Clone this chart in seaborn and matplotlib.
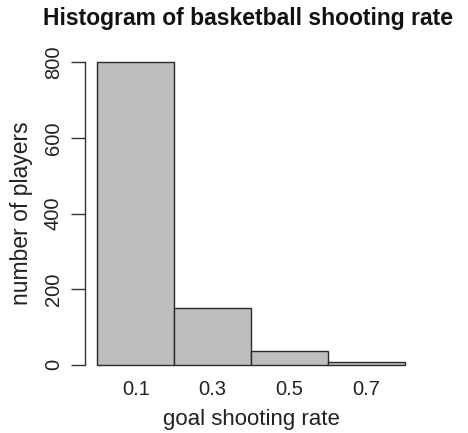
import matplotlib
matplotlib.use("Agg")
import matplotlib.pyplot as plt
import seaborn as sns
import numpy as np

# Data
bin_edges = [0.0, 0.2, 0.4, 0.6, 0.8]
bin_centers = [0.1, 0.3, 0.5, 0.7]
counts = [800, 150, 37, 8]
x_tick_labels = ["0.1", "0.3", "0.5", "0.7"]
y_ticks = [0, 200, 400, 600, 800]

sns.set_style("white")
plt.rcParams['font.family'] = ['Liberation Sans', 'DejaVu Sans']

W, H = 468, 433
fig = plt.figure(figsize=(W / 100, H / 100), dpi=100)
ax = fig.add_axes([85 / W, (H - 377) / H, (417 - 85) / W, (377 - 50) / H])

sns.histplot(x=bin_centers, weights=counts, bins=bin_edges, ax=ax,
             color="#BEBEBE", edgecolor="#2a2a2a", linewidth=1.0, alpha=1.0)

ax.set_xlim(-0.032, 0.832)
ax.set_ylim(-32, 832)

for s in ["top", "right", "bottom"]:
    ax.spines[s].set_visible(False)
ax.spines["left"].set_bounds(0, 800)
ax.spines["left"].set_color("#333333")
ax.spines["left"].set_linewidth(1.0)

ax.set_yticks(y_ticks)
ax.set_yticklabels([str(v) for v in y_ticks], rotation=90, va="center", fontsize=14.5, color="#222222")
ax.tick_params(axis="y", direction="out", length=10, width=1.0, color="#333333", pad=6, left=True)
ax.set_xticks(bin_centers)
ax.set_xticklabels(x_tick_labels, fontsize=14.5, color="#222222")
ax.tick_params(axis="x", length=0, pad=2)

ax.set_xlabel("goal shooting rate", fontsize=16, color="#222222", labelpad=7)
ax.set_ylabel("number of players", fontsize=16.5, color="#222222", labelpad=8)
fig.text(0.5 + 14 / W, 1 - 18 / H, "Histogram of basketball shooting rate",
         ha="center", va="center", fontsize=16.5, fontweight="bold", color="#111111")

fig.savefig("out.png", dpi=100)
